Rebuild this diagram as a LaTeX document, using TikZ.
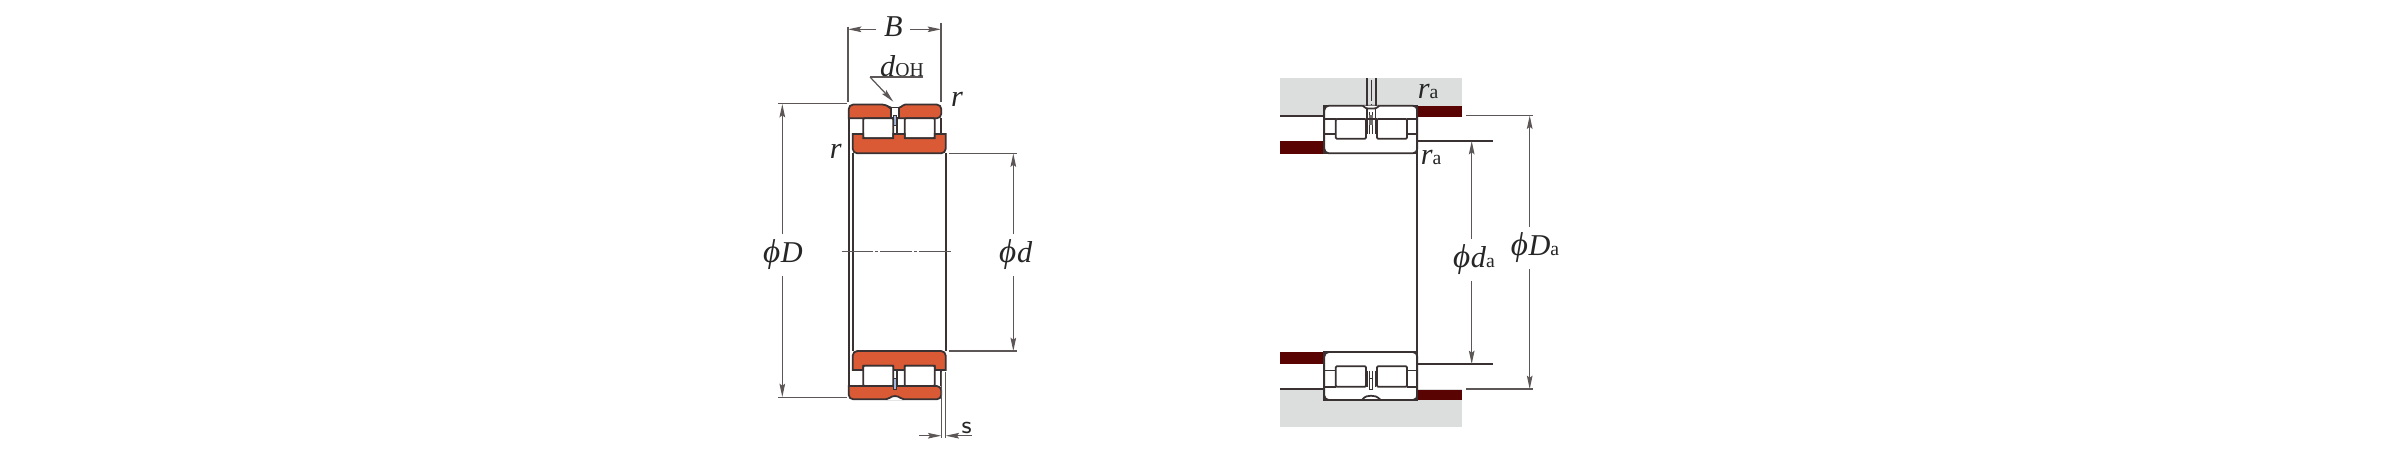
\documentclass[tikz,border=0pt]{standalone}
\usepackage{fontspec}
\setmainfont{Liberation Serif}
\usetikzlibrary{arrows.meta}

\definecolor{ringred}{HTML}{DB5A36}
\definecolor{abutred}{HTML}{5A0303}
\definecolor{housegrey}{HTML}{DCDDDD}
\definecolor{pinblue}{HTML}{A3B8DC}
\definecolor{inkline}{HTML}{3A3232}
\definecolor{dimgrey}{HTML}{5C5656}

\newcommand{\subtxt}[1]{{\fontsize{5.6}{7}\selectfont\upshape #1}}
\newcommand{\phisym}{{\fontsize{9.4}{10}\selectfont\char"03D5}\kern0.2pt}

\tikzset{
  part/.style={draw=inkline, line width=0.5pt},
  ringfill/.style={part, fill=ringred},
  rollerfill/.style={part, fill=white, rounded corners=0.3pt},
  extline/.style={draw=dimgrey, line width=0.35pt},
  dimline/.style={extline, -{Stealth[length=3.8pt,width=1.6pt,inset=0.6pt]}},
  lbl/.style={inner sep=1.5pt, text=black!85, font=\fontsize{8.6}{10}\selectfont\itshape},
}

\begin{document}
\begin{tikzpicture}[x=0.01cm, y=-0.01cm]
      \useasboundingbox (0, 0) rectangle (2400, 450);

      % left bearing, upper section
      \draw[part] (848.7, 118) -- (848.7, 386);
      \draw[part] (852.7, 153) -- (852.7, 351);
      \draw[part] (945.7, 153) -- (945.7, 351);
      \draw[part] (941.3, 118) -- (941.3, 134);
      \draw[part] (893.3, 118) -- (893.3, 134);
      \draw[part] (896.7, 118) -- (896.7, 134);
      \draw[part] (904.7, 118) -- (904.7, 134);
      \filldraw[ringfill] (848.7, 118.3) [rounded corners=1.3pt] -- (848.7, 104.5) -- (887, 104.5) [rounded corners=0.5pt] -- (890, 108) -- (900, 108) -- (903.5, 104.5) [rounded corners=1.3pt] -- (941.3, 104.5) -- (941.3, 118.3) [sharp corners] -- cycle;
      \filldraw[part, fill=white] (890.7, 107.6) rectangle (899.3, 118.3);
      \filldraw[part, fill=pinblue, line width=0.25pt] (893.3, 115) rectangle (896.7, 125);
      \filldraw[rollerfill] (863.3, 118.3) rectangle (893.3, 138.3);
      \filldraw[rollerfill] (904.7, 118.3) rectangle (934.7, 138.3);
      \filldraw[ringfill] (852.7, 134) -- (863.3, 134) -- (863.3, 138.3) -- (893.3, 138.3) -- (893.3, 134) -- (904.7, 134) -- (904.7, 138.3) -- (934.7, 138.3) -- (934.7, 134) -- (945.7, 134) [rounded corners=1.3pt] -- (945.7, 153.3) -- (852.7, 153.3) [sharp corners] -- cycle;

      % left bearing, lower section
      \draw[part] (941.3, 370) -- (941.3, 386);
      \draw[part] (893.3, 370) -- (893.3, 386);
      \draw[part] (896.7, 370) -- (896.7, 386);
      \draw[part] (904.7, 370) -- (904.7, 386);
      \filldraw[ringfill] (852.7, 370) -- (863.3, 370) -- (863.3, 365.7) -- (893.3, 365.7) -- (893.3, 370) -- (904.7, 370) -- (904.7, 365.7) -- (934.7, 365.7) -- (934.7, 370) -- (945.7, 370) [rounded corners=1.3pt] -- (945.7, 351) -- (852.7, 351) [sharp corners] -- cycle;
      \filldraw[rollerfill] (863.3, 365.7) rectangle (893.3, 386);
      \filldraw[rollerfill] (904.7, 365.7) rectangle (934.7, 386);
      \filldraw[ringfill] (848.7, 386) [rounded corners=1.3pt] -- (848.7, 399.3) -- (941.3, 399.3) -- (941.3, 386) [sharp corners] -- cycle;
      \fill[white] (886, 399.9) .. controls (890, 399.6) and (890, 396) .. (895, 396) .. controls (900, 396) and (900, 399.6) .. (904, 399.9) -- cycle;
      \draw[part] (886, 399.3) .. controls (890, 399.3) and (890, 396) .. (895, 396) .. controls (900, 396) and (900, 399.3) .. (904, 399.3);
      \filldraw[part, fill=pinblue, line width=0.25pt] (893.3, 378) rectangle (896.7, 389.3);

      % centre line
      \draw[extline, dash pattern=on 9pt off 0.6pt on 0.8pt off 0.6pt] (841.7, 251.7) -- (951.7, 251.7);

      % right bearing, housing and shoulders
      \fill[housegrey] (1280.3, 78) rectangle (1462.3, 115.7);
      \fill[housegrey] (1280.3, 389.3) rectangle (1462.3, 427.3);
      \fill[abutred] (1417.3, 105.7) rectangle (1462.3, 117);
      \fill[abutred] (1280.3, 140.7) rectangle (1324.3, 153.5);
      \fill[abutred] (1280.3, 351.7) rectangle (1324.3, 364.3);
      \fill[abutred] (1417.3, 389.5) rectangle (1462.3, 400);
      \draw[part] (1280.3, 115.7) -- (1324.3, 115.7);
      \draw[part] (1280.3, 389.3) -- (1324.3, 389.3);

      % right bearing, upper section
      \filldraw[part, fill=inkline] (1324.3, 105.7) rectangle (1417.3, 153.3);
      \filldraw[part, fill=white, rounded corners=1.3pt] (1324.3, 105.7) rectangle (1417.3, 153.3);
      \filldraw[part, fill=white] (1362.7, 105.7) .. controls (1366, 108.5) .. (1371, 108.5) .. controls (1376, 108.5) .. (1379.3, 105.7);
      \draw[part] (1367.3, 78) -- (1367.3, 105.7);
      \draw[part] (1376, 78) -- (1376, 105.7);
      \draw[part, line width=0.25pt, dash pattern=on 6pt off 0.8pt] (1371.7, 80) -- (1371.7, 104);
      \draw[part] (1366.7, 108.5) -- (1366.7, 134);
      \draw[part] (1375.5, 108.5) -- (1375.5, 134);
      \draw[part, line width=0.25pt] (1369.3, 112) -- (1369.3, 134);
      \draw[part, line width=0.25pt] (1372.7, 112) -- (1372.7, 134);
      \fill[inkline!70] (1369.3, 115) rectangle (1372.7, 125);
      \draw[part] (1324.3, 119) -- (1335.7, 119);
      \draw[part] (1324.3, 134) -- (1335.7, 134);
      \draw[part] (1407, 119) -- (1417.3, 119);
      \draw[part] (1407, 134) -- (1417.3, 134);
      \draw[part] (1366, 119) -- (1377, 119);
      \filldraw[rollerfill] (1335.7, 119) rectangle (1366, 138.7);
      \filldraw[rollerfill] (1377, 119) rectangle (1407, 138.7);

      % right bearing, lower section
      \filldraw[part, fill=inkline] (1324.3, 352) rectangle (1417.3, 400);
      \filldraw[part, fill=white, rounded corners=1.3pt] (1324.3, 352) rectangle (1417.3, 400);
      \draw[part] (1324.3, 370.5) -- (1335.7, 370.5);
      \draw[part] (1324.3, 386.7) -- (1335.7, 386.7);
      \draw[part] (1407, 370.5) -- (1417.3, 370.5);
      \draw[part] (1407, 386.7) -- (1417.3, 386.7);
      \draw[part] (1366.7, 370.5) -- (1366.7, 386.7);
      \draw[part] (1375.5, 370.5) -- (1375.5, 386.7);
      \draw[part, line width=0.25pt] (1369.3, 370.5) -- (1369.3, 389) -- (1372.7, 389) -- (1372.7, 370.5);
      \draw[part, line width=0.25pt] (1369.3, 378) -- (1372.7, 378);
      \filldraw[rollerfill] (1335.7, 366.3) rectangle (1366, 386.7);
      \filldraw[rollerfill] (1377, 366.3) rectangle (1407, 386.7);
      \draw[part] (1361.7, 400) .. controls (1365, 396) and (1368, 395.7) .. (1371, 395.7) .. controls (1374, 395.7) and (1377, 396) .. (1380.7, 400);

      % shaft line
      \draw[part] (1417.3, 105.7) -- (1417.3, 400);
      \draw[part] (1417.3, 140.7) -- (1492.7, 140.7);
      \draw[part] (1417.3, 364.3) -- (1492.7, 364.3);

      % extension lines
      \draw[extline] (848, 26.7) -- (848, 101.7);
      \draw[extline] (941, 22.7) -- (941, 101.7);
      \draw[extline] (778, 103.7) -- (846.7, 103.7);
      \draw[extline] (778, 397.3) -- (846.7, 397.3);
      \draw[extline] (949.3, 153.3) -- (1017, 153.3);
      \draw[extline] (949.3, 351) -- (1017, 351);
      \draw[extline] (941.3, 372) -- (941.3, 438);
      \draw[extline] (945.7, 372) -- (945.7, 438);
      \draw[extline] (1466, 115.3) -- (1533.3, 115.3);
      \draw[extline] (1466, 389) -- (1533.3, 389);

      % dimension end points
      \coordinate (bL) at (848, 29.3);
      \coordinate (bR) at (941, 29.3);
      \coordinate (oilKnee) at (870, 77);
      \coordinate (oilEnd) at (923, 77);
      \coordinate (oilTip) at (893.3, 101.7);
      \coordinate (bigDtop) at (782.3, 104);
      \coordinate (bigDbot) at (782.3, 397);
      \coordinate (smallDtop) at (1013.3, 153.5);
      \coordinate (smallDbot) at (1013.3, 351);
      \coordinate (sL) at (941.3, 435.7);
      \coordinate (sR) at (945.7, 435.7);
      \coordinate (sLend) at (919, 435.7);
      \coordinate (sRend) at (971.7, 435.7);
      \coordinate (daTop) at (1471.7, 141);
      \coordinate (daBot) at (1471.7, 364);
      \coordinate (bigDaTop) at (1529.7, 115.5);
      \coordinate (bigDaBot) at (1529.7, 389);

      % labels
      \node[lbl, inner xsep=2pt] (txtB) at (893.3, 27) {B};
      \node[lbl] (txtOil) at (902, 66) {d\subtxt{OH}};
      \node[lbl] (txtRtop) at (957, 99) {r};
      \node[lbl] (txtRleft) at (835.7, 151.7) {r};
      \node[lbl] (txtBigD) at (783, 255) {\phisym D};
      \node[lbl] (txtSmallD) at (1015.7, 255) {\phisym d};
      \node[lbl, font=\fontsize{7}{8}\selectfont\sffamily] (txtS) at (966.7, 428) {s};
      \node[lbl] (txtRa1) at (1428, 91) {r\subtxt{a}};
      \node[lbl] (txtRa2) at (1431, 157) {r\subtxt{a}};
      \node[lbl] (txtDa) at (1474, 260) {\phisym d\subtxt{a}};
      \node[lbl] (txtBigDa) at (1535, 248) {\phisym D\subtxt{a}};

      % dimension lines
      \draw[dimline] (txtB.west |- bL) -- (bL);
      \draw[dimline] (txtB.east |- bR) -- (bR);
      \draw[extline] (oilEnd) -- (oilKnee);
      \draw[dimline] (oilKnee) -- (oilTip);
      \draw[dimline] (txtBigD.north -| bigDtop) -- (bigDtop);
      \draw[dimline] (txtBigD.south -| bigDbot) -- (bigDbot);
      \draw[dimline] (txtSmallD.north -| smallDtop) -- (smallDtop);
      \draw[dimline] (txtSmallD.south -| smallDbot) -- (smallDbot);
      \draw[dimline] (sLend) -- (sL);
      \draw[dimline] (sRend) -- (sR);
      \draw[dimline] (txtDa.north -| daTop) -- (daTop);
      \draw[dimline] (txtDa.south -| daBot) -- (daBot);
      \draw[dimline] (txtBigDa.north -| bigDaTop) -- (bigDaTop);
      \draw[dimline] (txtBigDa.south -| bigDaBot) -- (bigDaBot);
    \end{tikzpicture}
\end{document}
